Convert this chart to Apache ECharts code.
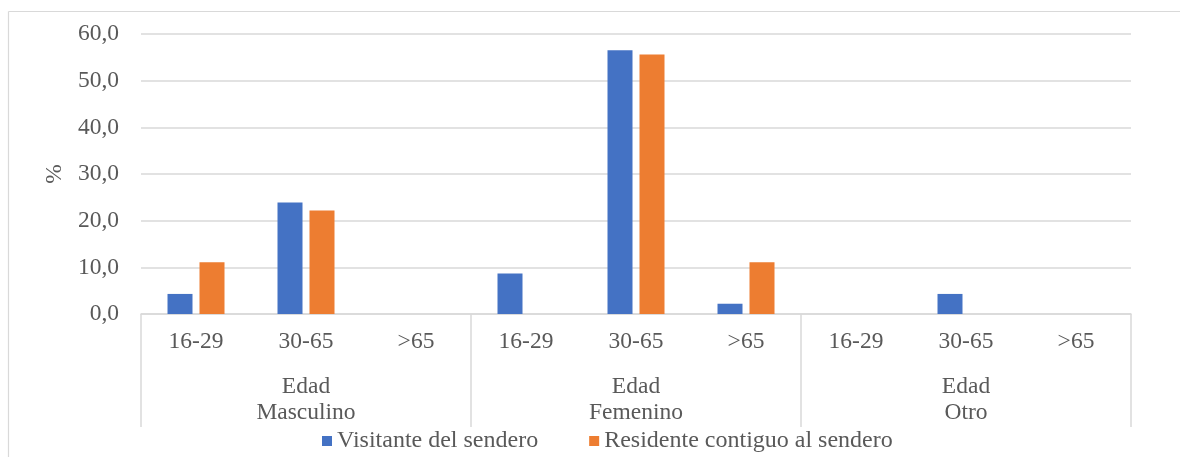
<!DOCTYPE html>
<html>
<head>
<meta charset="utf-8">
<script src="https://cdn.jsdelivr.net/npm/echarts@6/dist/echarts.min.js"></script>
<style>
  html, body { margin: 0; padding: 0; background: #fff; }
  #chart { width: 1180px; height: 457px; }
</style>
</head>
<body>
<div id="chart"></div>
<script>
// Age brackets, repeated within each sex group
const ageLabels = ['16-29', '30-65', '>65', '16-29', '30-65', '>65', '16-29', '30-65', '>65'];
// Sex groups shown under the age labels
const groupLabels = ['Edad\nMasculino', 'Edad\nFemenino', 'Edad\nOtro'];
const seriesNames = ['Visitante del sendero', 'Residente contiguo al sendero'];
// Percentages per age bracket (Masculino, Femenino, Otro)
const visitante = [4.3, 23.9, 0, 8.7, 56.5, 2.2, 0, 4.3, 0];
const residente = [11.1, 22.2, 0, 0, 55.6, 11.1, 0, 0, 0];
const yTicks = { min: 0, max: 60, interval: 10 };

const FONT = '"Liberation Serif", "Times New Roman", serif';
const FS = 23.5;
const TXT = '#595959';
const LINE = '#d9d9d9';

const chart = echarts.init(document.getElementById('chart'), null, { renderer: 'canvas' });

chart.setOption({
  animation: false,
  textStyle: { fontFamily: FONT },
  grid: { left: 141, right: 49, top: 34, bottom: 143, containLabel: false },
  legend: {
    top: 424,
    left: 317,
    icon: 'rect',
    itemWidth: 10,
    itemHeight: 10,
    itemGap: 51,
    textStyle: { fontFamily: FONT, fontSize: 24, color: TXT },
    data: seriesNames
  },
  xAxis: [
    {
      type: 'category',
      data: ageLabels,
      position: 'bottom',
      axisLine: { lineStyle: { color: LINE, width: 1.5 } },
      axisTick: { show: false },
      axisLabel: { interval: 0, margin: 16, color: TXT, fontFamily: FONT, fontSize: FS }
    },
    {
      type: 'category',
      data: groupLabels,
      position: 'bottom',
      axisLine: { show: false },
      axisTick: { show: true, interval: 0, length: 113, lineStyle: { color: LINE, width: 1.5 } },
      axisLabel: { interval: 0, margin: 60, color: TXT, fontFamily: FONT, fontSize: FS, lineHeight: 26 }
    }
  ],
  yAxis: {
    type: 'value',
    min: yTicks.min,
    max: yTicks.max,
    interval: yTicks.interval,
    name: '%',
    nameLocation: 'middle',
    nameGap: 69,
    nameRotate: 90,
    nameTextStyle: { fontFamily: FONT, fontSize: FS, color: TXT },
    axisLine: { show: false },
    axisTick: { show: false },
    axisLabel: {
      margin: 22,
      color: TXT,
      fontFamily: FONT,
      fontSize: FS,
      formatter: v => v.toFixed(1).replace('.', ',')
    },
    splitLine: { lineStyle: { color: LINE, width: 1.5 } }
  },
  series: [
    {
      name: seriesNames[0],
      type: 'bar',
      xAxisIndex: 0,
      data: visitante,
      barWidth: 25,
      barGap: '28%',
      itemStyle: { color: '#4472c4' }
    },
    {
      name: seriesNames[1],
      type: 'bar',
      xAxisIndex: 0,
      data: residente,
      barWidth: 25,
      itemStyle: { color: '#ed7d31' }
    }
  ],
  graphic: [
    // chart area frame (top and left edges)
    { type: 'line', shape: { x1: 8.5, y1: 11.5, x2: 1180, y2: 11.5 }, style: { stroke: LINE, lineWidth: 1.2 }, silent: true },
    { type: 'line', shape: { x1: 8.5, y1: 11.5, x2: 8.5, y2: 457 }, style: { stroke: LINE, lineWidth: 1.2 }, silent: true }
  ]
});
</script>
</body>
</html>
